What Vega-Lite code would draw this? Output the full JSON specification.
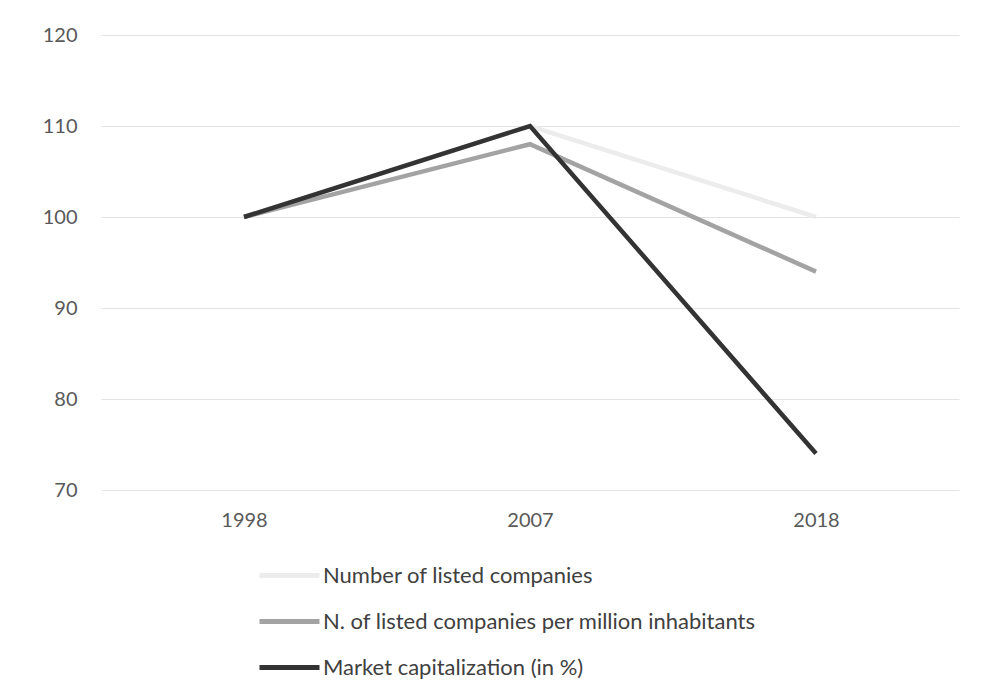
{
  "$schema": "https://vega.github.io/schema/vega-lite/v6.json",
  "width": 858,
  "height": 455,
  "autosize": "none",
  "padding": {"left": 101, "top": 35, "right": 33, "bottom": 204},
  "background": "white",
  "config": {
    "view": {"stroke": null},
    "font": "Lato",
    "axis": {"labelFont": "Lato", "labelFontSize": 20, "labelColor": "#595959", "domain": false, "ticks": false, "grid": false},
    "legend": {"labelFont": "Lato", "labelFontSize": 22, "labelColor": "#404040", "labelLimit": 0}
  },
  "data": {
    "values": [
      {"year": "1998", "series": "Number of listed companies", "value": 100},
      {"year": "2007", "series": "Number of listed companies", "value": 110},
      {"year": "2018", "series": "Number of listed companies", "value": 100},
      {"year": "1998", "series": "N. of listed companies per million inhabitants", "value": 100},
      {"year": "2007", "series": "N. of listed companies per million inhabitants", "value": 108},
      {"year": "2018", "series": "N. of listed companies per million inhabitants", "value": 94},
      {"year": "1998", "series": "Market capitalization (in %)", "value": 100},
      {"year": "2007", "series": "Market capitalization (in %)", "value": 110},
      {"year": "2018", "series": "Market capitalization (in %)", "value": 74}
    ]
  },
  "mark": {"type": "line", "strokeWidth": 4.5, "strokeJoin": "miter"},
  "encoding": {
    "x": {
      "field": "year", "type": "ordinal",
      "scale": {"type": "point", "padding": 0.5},
      "axis": {"title": null, "labelAngle": 0, "labelPadding": 20}
    },
    "y": {
      "field": "value", "type": "quantitative",
      "scale": {"domain": [70, 120], "nice": false, "zero": false},
      "axis": {"title": null, "values": [70, 80, 90, 100, 110, 120], "grid": true, "gridColor": "#e3e3e3", "gridWidth": 1, "labelPadding": 24}
    },
    "color": {
      "field": "series", "type": "nominal",
      "scale": {
        "domain": ["Number of listed companies", "N. of listed companies per million inhabitants", "Market capitalization (in %)"],
        "range": ["#ececec", "#a3a3a3", "#333333"]
      },
      "legend": {
        "title": null,
        "orient": "none",
        "legendX": 156,
        "legendY": 508,
        "direction": "vertical",
        "symbolType": "stroke",
        "symbolSize": 3600,
        "symbolStrokeWidth": 5,
        "labelOffset": 1,
        "rowPadding": 2
      }
    }
  }
}
